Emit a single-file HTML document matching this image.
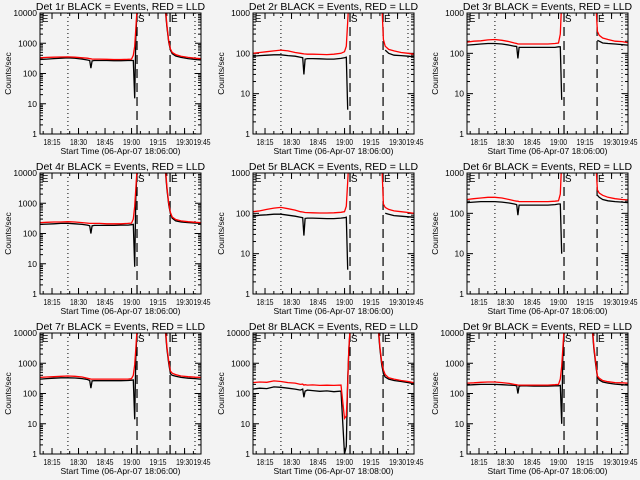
<!DOCTYPE html>
<html><head><meta charset="utf-8">
<style>
html,body{margin:0;padding:0;background:#f3f3f3;}
svg{display:block;font-family:"Liberation Sans",sans-serif;}
</style></head>
<body>
<svg id="fig" width="640" height="480" viewBox="0 0 640 480" xmlns="http://www.w3.org/2000/svg">
<rect width="640" height="480" fill="#f3f3f3"/>
</svg>
<script>
// shared time samples (minutes after 18:00)
const times = [8.2,12,16,20,24,28,32,35,36.3,37,37.7,39,42,46,50,54,58,60,61,61.8,62.4,63,64,78,79,80,81,82,83,85,88,92,96,99];
const tickTimes = [15,30,45,60,75,90,105];
const tickLabels = ["18:15","18:30","18:45","19:00","19:15","19:30","19:45"];
const N = null;
const black1 = [290,300,310,320,330,320,300,280,270,150,260,270,270,270,265,265,270,270,270,15,1500,8000,20000,20000,15000,3500,1100,600,450,380,340,310,290,280];
const red1   = [330,340,345,350,355,345,330,320,310,305,300,300,300,295,290,290,295,300,400,800,3000,10000,20000,20000,20000,4000,1200,650,500,420,370,340,320,310];
const black2 = [85,88,90,92,92,88,85,80,78,30,72,74,74,73,72,72,75,78,80,4,N,N,N,N,N,N,N,N,120,100,90,88,85,82];
const red2   = [100,105,110,115,120,115,105,100,98,97,96,95,95,94,93,95,100,110,150,600,2000,N,N,N,N,N,2000,220,150,125,115,105,100,95];
const black3 = [160,165,170,175,175,170,160,150,148,75,140,140,140,140,140,140,140,145,145,7,N,N,N,N,N,N,N,210,200,180,175,170,165,160];
const red3   = [190,200,205,215,220,210,195,180,175,170,170,170,170,170,170,170,175,180,300,2000,N,N,N,N,N,N,2000,350,280,240,220,200,195,185];
const black4 = [200,205,210,215,215,210,200,190,180,100,180,185,185,185,185,190,190,195,200,8,1500,8000,20000,20000,15000,3000,900,450,320,260,240,230,220,215];
const red4   = [230,235,240,240,245,240,230,220,215,215,215,215,215,210,210,210,215,220,300,800,3000,10000,20000,20000,20000,3500,1000,500,350,290,260,245,235,230];
const black5 = [85,90,92,95,95,90,85,80,78,28,75,76,76,75,74,74,76,78,80,4,N,N,N,N,N,N,N,N,100,95,88,85,82,80];
const red5   = [110,115,125,135,140,130,120,110,108,106,105,104,103,102,102,103,106,110,150,600,2000,N,N,N,N,N,2000,170,140,125,115,110,105,100];
const black6 = [185,190,195,195,195,190,180,170,165,90,160,160,160,160,160,160,165,170,170,10,N,N,N,N,N,N,N,280,250,220,205,195,190,185];
const red6   = [220,230,240,250,250,240,220,205,200,200,195,195,195,195,195,195,200,205,300,2000,N,N,N,N,N,N,2000,380,320,280,250,230,220,215];
const black7 = [300,310,320,330,330,325,310,290,270,150,260,265,265,265,265,265,270,275,280,14,1500,8000,20000,20000,15000,3000,1000,450,400,370,340,320,310,300];
const red7   = [340,350,360,370,380,370,350,320,305,300,300,300,300,300,300,300,300,310,400,900,3000,10000,20000,20000,20000,3500,1200,550,470,420,380,360,345,340];
const black8 = [140,150,145,165,160,150,140,130,140,75,120,130,125,118,122,115,120,1,1.8,300,2500,9000,20000,20000,15000,3000,900,450,350,300,270,250,230,210];
const red8   = [230,240,235,260,250,230,220,200,205,190,195,190,192,185,188,185,190,15,18,200,3000,10000,20000,20000,20000,3500,1100,600,420,330,300,270,250,230];
const black9 = [190,195,200,200,200,195,190,185,180,100,175,180,180,175,175,175,180,180,185,10,1500,8000,20000,20000,15000,3000,900,350,280,240,220,205,195,190];
const red9   = [220,225,235,240,240,230,215,200,195,190,190,190,190,190,190,190,195,200,300,800,3000,10000,20000,20000,20000,3500,1100,380,320,270,245,230,225,220];

const panels = [
 {n:1,col:0,row:0,ymax:10000,b:black1,r:red1,xt:"Start Time (06-Apr-07 18:06:00)"},
 {n:2,col:1,row:0,ymax:1000,b:black2,r:red2,xt:"Start Time (06-Apr-07 18:06:00)"},
 {n:3,col:2,row:0,ymax:1000,b:black3,r:red3,xt:"Start Time (06-Apr-07 18:06:00)"},
 {n:4,col:0,row:1,ymax:10000,b:black4,r:red4,xt:"Start Time (06-Apr-07 18:06:00)"},
 {n:5,col:1,row:1,ymax:1000,b:black5,r:red5,xt:"Start Time (06-Apr-07 18:06:00)"},
 {n:6,col:2,row:1,ymax:1000,b:black6,r:red6,xt:"Start Time (06-Apr-07 18:06:00)"},
 {n:7,col:0,row:2,ymax:10000,b:black7,r:red7,xt:"Start Time (06-Apr-07 18:06:00)"},
 {n:8,col:1,row:2,ymax:10000,b:black8,r:red8,xt:"Start Time (06-Apr-07 18:08:00)"},
 {n:9,col:2,row:2,ymax:10000,b:black9,r:red9,xt:"Start Time (06-Apr-07 18:06:00)"}
];
const T0 = 8.2, T1 = 99.3;
const lefts = [40,253,467], W = 161, H = 121;
const NS = "http://www.w3.org/2000/svg";
const svg = document.getElementById('fig');
function mk(tag, attrs, parent){
  const e = document.createElementNS(NS, tag);
  for (const k in attrs) e.setAttribute(k, attrs[k]);
  (parent||svg).appendChild(e); return e;
}
panels.forEach(p=>{
  const L = lefts[p.col], T = 13 + 160*p.row, R = L+W, B = T+H;
  const dec = Math.log10(p.ymax);
  const x = t => L + (t-T0)/(T1-T0)*W;
  const y = v => B - Math.log10(Math.max(v,0.5))/dec*H;
  const g = mk('g',{});
  
  
  const cp = mk('clipPath',{id:'c'+p.n},g);
  mk('rect',{x:L,y:T,width:W,height:H},cp);
  const ti = mk('text',{x:L+W/2,y:T-3,'text-anchor':'middle','font-size':'10.5'},g);
  ti.textContent = 'Det '+p.n+'r BLACK = Events, RED = LLD';
  
  
  for (let d=0; d<=dec; d++){
    const yy = B - d/dec*H;
    mk('line',{x1:L,x2:L+6,y1:yy,y2:yy,stroke:'#000'},g);
    mk('line',{x1:R,x2:R-6,y1:yy,y2:yy,stroke:'#000'},g);
    const tl = mk('text',{x:L-3,y:yy+3,'text-anchor':'end','font-size':'8.5'},g);
    tl.textContent = String(Math.pow(10,d));
    
    
    if (d<dec) for (let m=2;m<10;m++){
      const ym = B - (d+Math.log10(m))/dec*H;
      mk('line',{x1:L,x2:L+3,y1:ym,y2:ym,stroke:'#000'},g);
      mk('line',{x1:R,x2:R-3,y1:ym,y2:ym,stroke:'#000'},g);
    }
  }
  const yl = mk('text',{transform:'translate('+(L-29)+','+(T+H/2)+') rotate(-90)','text-anchor':'middle','font-size':'8.5'},g);
  yl.textContent = 'Counts/sec';
  
  
  tickTimes.forEach((t,i)=>{
    let xx = x(t);
    if (xx <= R){
      mk('line',{x1:xx,x2:xx,y1:B,y2:B-6,stroke:'#000'},g);
      mk('line',{x1:xx,x2:xx,y1:T,y2:T+6,stroke:'#000'},g);
    } else xx = R+1;
    const tl = mk('text',{x:xx,y:B+11,'text-anchor':'middle','font-size':'8','textLength':'17','lengthAdjust':'spacingAndGlyphs'},g);
    tl.textContent = tickLabels[i];
    
    
  });
  for (let t=10; t<T1; t+=5){ const xx=x(t); if(xx<L) continue;
    mk('line',{x1:xx,x2:xx,y1:B,y2:B-3,stroke:'#000'},g);
    mk('line',{x1:xx,x2:xx,y1:T,y2:T+3,stroke:'#000'},g);}
  const xt = mk('text',{x:L+W/2,y:B+20,'text-anchor':'middle','font-size':'8.5'},g);
  xt.textContent = p.xt;
  
  
  [24,95.9].forEach(t=>mk('line',{x1:x(t),x2:x(t),y1:T,y2:B,stroke:'#000','stroke-dasharray':'1,3'},g));
  [63.1,81.8].forEach(t=>mk('line',{x1:x(t),x2:x(t),y1:B,y2:T,stroke:'#000','stroke-width':'1.2','stroke-dasharray':'9,5'},g));
  [[T0+1,'E'],[63.6,'S'],[82.3,'E']].forEach(([t,s])=>{
    const m = mk('text',{x:x(t),y:T+9,'font-size':'10'},g); m.textContent=s;
    
    
  });
  function path(vals){
    let d='', pen=false;
    vals.forEach((v,i)=>{
      if (v===null){pen=false;return;}
      d += (pen?'L':'M') + x(times[i]).toFixed(1)+','+y(v).toFixed(1);
      pen=true;
    });
    return d;
  }
  const pb = mk('path',{d:path(p.b),fill:'none',stroke:'#000','stroke-width':'1.3','clip-path':'url(#c'+p.n+')'},g);
  
  
  const pr = mk('path',{d:path(p.r),fill:'none',stroke:'#ff0000','stroke-width':'1.3','clip-path':'url(#c'+p.n+')'},g);
  
  
  const fr = mk('rect',{x:L,y:T,width:W,height:H,fill:'none',stroke:'#000'},g);
  
  
});
</script>
</body></html>
